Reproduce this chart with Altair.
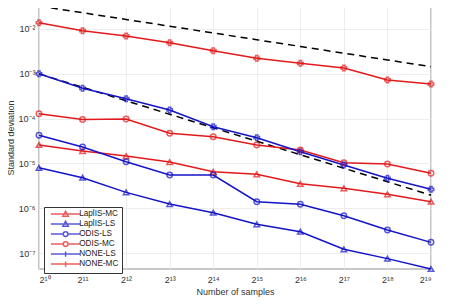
import altair as alt
import pandas as pd

exps = [10, 11, 12, 13, 14, 15, 16, 17, 18, 19]
samples = [2 ** e for e in exps]

series_names = ["LaplIS-MC", "LaplIS-LS", "ODIS-LS", "ODIS-MC", "NONE-LS", "NONE-MC"]
series_colors = ["#e31a1c", "#1414c8", "#1414c8", "#e31a1c", "#1414c8", "#e31a1c"]
series_shapes = ["triangle-up", "triangle-up", "circle", "circle", "cross", "cross"]

laplis_mc = [2.58e-5, 1.89e-5, 1.46e-5, 1.07e-5, 6.5e-6, 5.7e-6, 3.5e-6, 2.78e-6, 2.04e-6, 1.40e-6]
laplis_ls = [8.0e-6, 4.8e-6, 2.26e-6, 1.24e-6, 7.95e-7, 4.37e-7, 2.99e-7, 1.21e-7, 7.5e-8, 4.4e-8]
odis_ls = [4.23e-5, 2.32e-5, 1.09e-5, 5.5e-6, 5.5e-6, 1.40e-6, 1.22e-6, 6.8e-7, 3.26e-7, 1.73e-7]
odis_mc = [1.29e-4, 9.6e-5, 9.8e-5, 4.7e-5, 3.95e-5, 2.58e-5, 2.0e-5, 1.04e-5, 9.7e-6, 6.0e-6]
none_ls = [1.0e-3, 4.74e-4, 2.78e-4, 1.56e-4, 6.6e-5, 3.75e-5, 1.82e-5, 9.2e-6, 4.65e-6, 2.64e-6]
none_mc = [1.38e-2, 9.16e-3, 6.99e-3, 4.95e-3, 3.28e-3, 2.22e-3, 1.71e-3, 1.35e-3, 7.3e-4, 5.9e-4]

# reference slopes (dashed): N^-1/2 and N^-1
ref_half = [3.26e-2, 2.305e-2, 1.63e-2, 1.153e-2, 8.15e-3, 5.76e-3, 4.075e-3, 2.88e-3, 2.04e-3, 1.44e-3]
ref_one = [1.0e-3, 5.0e-4, 2.5e-4, 1.25e-4, 6.25e-5, 3.125e-5, 1.5625e-5, 7.8125e-6, 3.906e-6, 1.953e-6]

y_ticks = [1e-7, 1e-6, 1e-5, 1e-4, 1e-3, 1e-2]
y_labels = ["10⁻⁷", "10⁻⁶", "10⁻⁵", "10⁻⁴", "10⁻³", "10⁻²"]
x_labels = ["2¹⁰", "2¹¹", "2¹²", "2¹³", "2¹⁴", "2¹⁵", "2¹⁶", "2¹⁷", "2¹⁸", "2¹⁹"]

all_vals = [laplis_mc, laplis_ls, odis_ls, odis_mc, none_ls, none_mc]
rows = []
for name, vals in zip(series_names, all_vals):
    for n, v in zip(samples, vals):
        rows.append({"series": name, "label": name, "N": n, "sd": v})
df = pd.DataFrame(rows)

ref_rows = []
for name, vals in [("half", ref_half), ("one", ref_one)]:
    for n, v in zip(samples, vals):
        ref_rows.append({"ref": name, "N": n, "sd": v})
ref_df = pd.DataFrame(ref_rows)


def label_expr(values, labels):
    expr = "''"
    for v, l in zip(values, labels):
        expr = f"abs(datum.value - {v!r}) < {v!r}*0.01 ? '{l}' : ({expr})"
    return expr


x_enc = alt.X(
    "N:Q",
    scale=alt.Scale(type="log", base=2, domain=[samples[0], samples[-1]], nice=False),
    axis=alt.Axis(
        values=samples,
        labelExpr=label_expr(samples, x_labels),
        title="Number of samples",
        grid=True,
        ticks=False,
        domain=False,
        labelPadding=6,
        titlePadding=3,
    ),
)
y_enc = alt.Y(
    "sd:Q",
    scale=alt.Scale(type="log", domain=[4.4e-8, 3.26e-2], nice=False),
    axis=alt.Axis(
        values=y_ticks,
        labelExpr=label_expr(y_ticks, y_labels),
        title="Standard deviation",
        grid=True,
        ticks=False,
        domain=False,
        labelPadding=4,
        titlePadding=3,
    ),
)

color_scale = alt.Scale(domain=series_names, range=series_colors)

ref_layer = alt.Chart(ref_df).mark_line(
    color="black", strokeDash=[7, 5], strokeWidth=1.5
).encode(x=x_enc, y=y_enc, detail="ref:N")

lines = alt.Chart(df).mark_line(strokeWidth=1.5).encode(
    x=x_enc, y=y_enc,
    color=alt.Color("series:N", scale=color_scale, legend=None),
)

points = alt.Chart(df).mark_point(filled=False, strokeWidth=1.5, size=30).encode(
    x=x_enc, y=y_enc,
    color=alt.Color("series:N", scale=color_scale, legend=None),
    shape=alt.Shape("series:N", scale=alt.Scale(domain=series_names, range=series_shapes), legend=None),
)

# legend-only layer: custom symbols combining a line segment and the marker
tri = "M-3.4,0H6.4M1.5,-0.9L2.4,0.7L0.6,0.7Z"
circ = "M-3.4,0H0.7M2.3,0H6.4M0.7,0A0.8,0.8 0 1,0 2.3,0A0.8,0.8 0 1,0 0.7,0"
plus = "M-3.4,0H6.4M1.5,-0.9V0.9"
legend_shapes = [tri, tri, circ, circ, plus, plus]

leg_props = dict(
    orient="none",
    legendX=5,
    legendY=201,
    title=None,
    strokeColor="#333333",
    fillColor="white",
    padding=3,
    symbolSize=36,
    symbolStrokeWidth=1.5,
    symbolFillColor="transparent",
    labelOffset=14,
    labelFontSize=8.2,
    labelLimit=80,
    labelColor="#222222",
    labelFont="Liberation Sans",
    rowPadding=-3,
    symbolOffset=10,
)

legend_layer = alt.Chart(df).transform_filter("false").mark_point(filled=False).encode(
    x=x_enc, y=y_enc,
    color=alt.Color("label:N", scale=alt.Scale(domain=series_names, range=series_colors),
                    legend=alt.Legend(**leg_props)),
    shape=alt.Shape("label:N", scale=alt.Scale(domain=series_names, range=legend_shapes),
                    legend=alt.Legend(**leg_props)),
)

chart = alt.layer(ref_layer, lines, points, legend_layer).resolve_scale(
    color="independent", shape="independent"
).properties(
    width=392,
    height=263,
    autosize=alt.AutoSizeParams(type="none"),
    padding={"left": 31, "top": -2, "right": 20, "bottom": 30},
).configure_view(
    stroke="#b5b5b5", strokeWidth=1.5
).configure_axis(
    labelFont="Liberation Sans",
    titleFont="Liberation Sans",
    labelFontSize=9,
    titleFontSize=9,
    titleFontWeight="normal",
    labelColor="#333333",
    titleColor="#333333",
    gridColor="#e8e8e8",
    gridWidth=0.8,
)

chart.save("out.html", embed_options={"renderer": "svg", "actions": False})
